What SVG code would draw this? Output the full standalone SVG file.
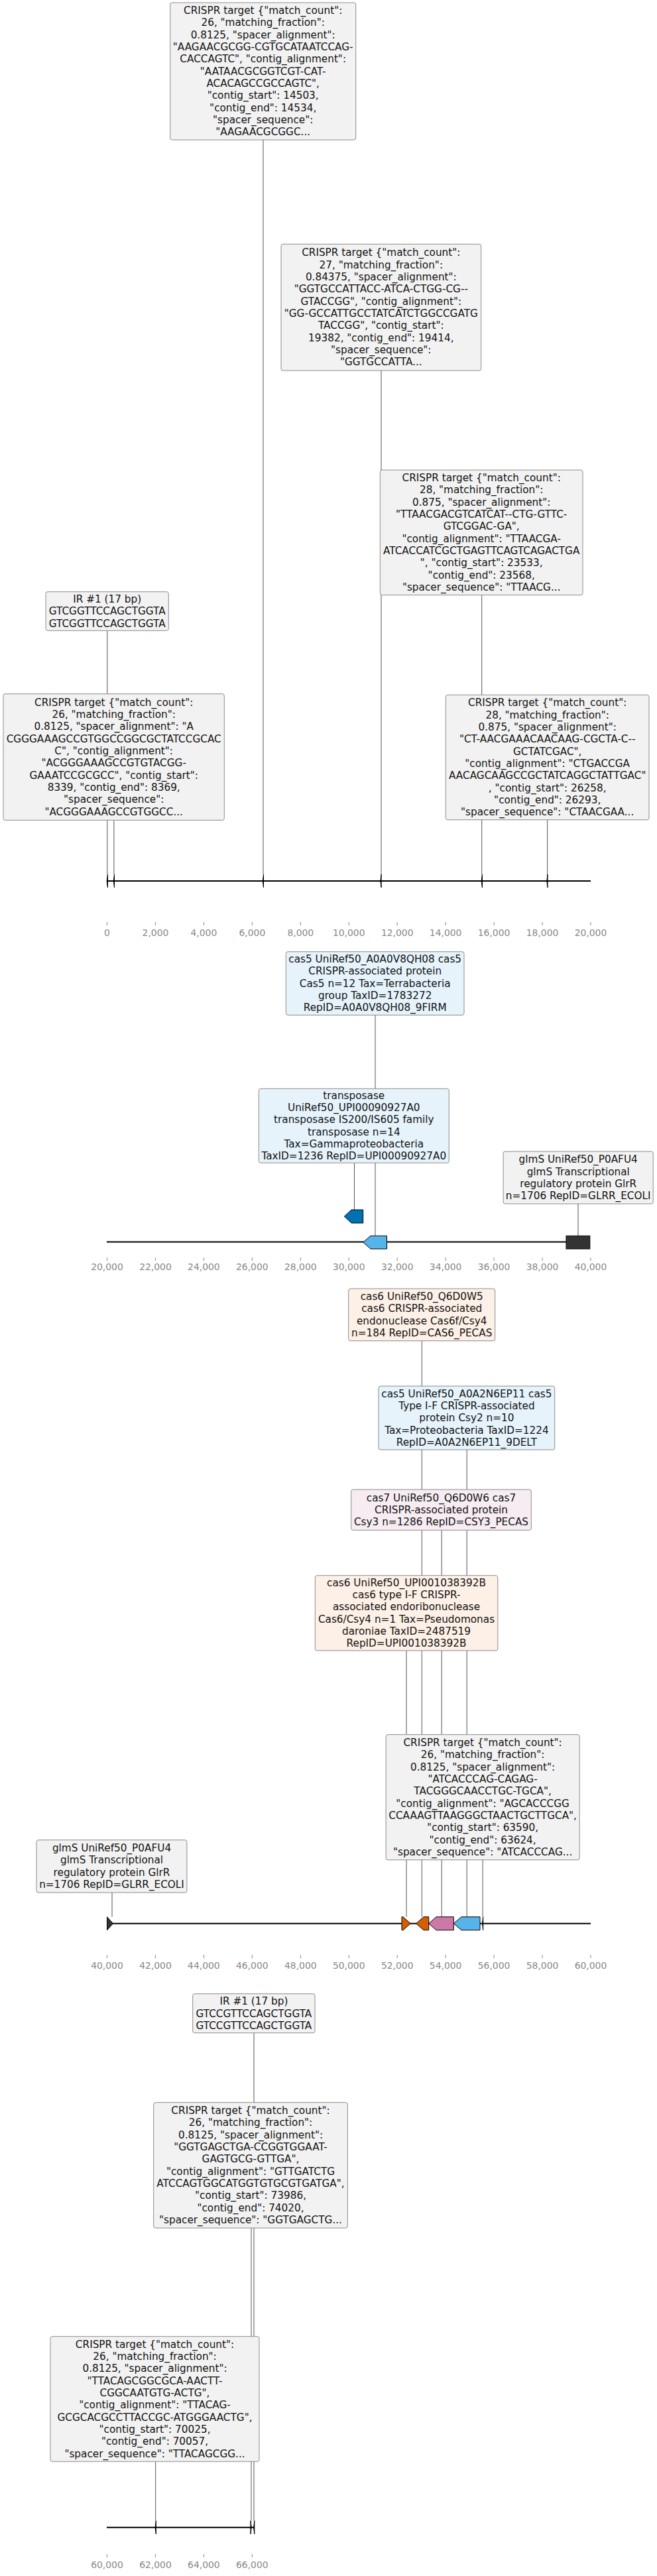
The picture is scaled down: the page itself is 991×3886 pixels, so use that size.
<svg xmlns="http://www.w3.org/2000/svg" width="991" height="3886" viewBox="0 0 991 3886">
<style>
.bx{stroke:#8c8c8c;stroke-width:1}
.g{fill:#f2f2f2}.b{fill:#e6f3fb}.o{fill:#fdf0e6}.p{fill:#f6ecf2}
.t{font-family:"DejaVu Sans",sans-serif;font-size:15.28px;fill:#111;text-anchor:middle}
.tk{font-family:"DejaVu Sans",sans-serif;font-size:13.9px;fill:#888;text-anchor:middle}
.tm{stroke:#888;stroke-width:1}
.ax{stroke:#000;stroke-width:2}
.c{stroke:#555;stroke-width:1}
.f{stroke:#000;stroke-width:1}
</style>
<rect width="991" height="3886" fill="#fff"/>
<g id="connectors">
<line class="c" x1="161.8" y1="951.3" x2="161.8" y2="1319"/>
<line class="c" x1="171.9" y1="1237.3" x2="171.9" y2="1319"/>
<line class="c" x1="397" y1="211" x2="397" y2="1319"/>
<line class="c" x1="575" y1="559" x2="575" y2="1319"/>
<line class="c" x1="726.7" y1="897.7" x2="726.7" y2="1319"/>
<line class="c" x1="825.7" y1="1236.7" x2="825.7" y2="1319"/>
<line class="c" x1="566" y1="1531.3" x2="566" y2="1864.3"/>
<line class="c" x1="534.5" y1="1754.3" x2="534.5" y2="1825"/>
<line class="c" x1="872" y1="1816" x2="872" y2="1864.3"/>
<line class="c" x1="636.3" y1="2022.7" x2="636.3" y2="2891.7"/>
<line class="c" x1="704.2" y1="2187" x2="704.2" y2="2891.7"/>
<line class="c" x1="666.2" y1="2308.3" x2="666.2" y2="2891.7"/>
<line class="c" x1="613" y1="2490" x2="613" y2="2891.7"/>
<line class="c" x1="728.1" y1="2805.7" x2="728.1" y2="2891.7"/>
<line class="c" x1="169" y1="2855" x2="169" y2="2891.7"/>
<line class="c" x1="383" y1="3066.7" x2="383" y2="3802.7"/>
<line class="c" x1="379" y1="3361" x2="379" y2="3802.7"/>
<line class="c" x1="234.7" y1="3713.3" x2="234.7" y2="3802.7"/>
</g>
<g id="axis1">
<line class="ax" x1="161.5" y1="1329" x2="891" y2="1329"/>
<g class="tm"><line x1="161.5" y1="1391" x2="161.5" y2="1396"/><line x1="234.45" y1="1391" x2="234.45" y2="1396"/><line x1="307.4" y1="1391" x2="307.4" y2="1396"/><line x1="380.35" y1="1391" x2="380.35" y2="1396"/><line x1="453.3" y1="1391" x2="453.3" y2="1396"/><line x1="526.25" y1="1391" x2="526.25" y2="1396"/><line x1="599.2" y1="1391" x2="599.2" y2="1396"/><line x1="672.15" y1="1391" x2="672.15" y2="1396"/><line x1="745.1" y1="1391" x2="745.1" y2="1396"/><line x1="818.05" y1="1391" x2="818.05" y2="1396"/><line x1="891" y1="1391" x2="891" y2="1396"/></g>
<text class="tk" y="1412"><tspan x="161.5">0</tspan><tspan x="234.45">2,000</tspan><tspan x="307.4">4,000</tspan><tspan x="380.35">6,000</tspan><tspan x="453.3">8,000</tspan><tspan x="526.25">10,000</tspan><tspan x="599.2">12,000</tspan><tspan x="672.15">14,000</tspan><tspan x="745.1">16,000</tspan><tspan x="818.05">18,000</tspan><tspan x="891">20,000</tspan></text>
<path class="f" fill="#000" d="M162.4 1319 L162.4 1339 L161.2 1329 Z M172.5 1319 L172.5 1339 L171.3 1329 Z M397.5 1319 L397.5 1339 L396.3 1329 Z M575.1 1319 L575.1 1339 L573.9 1329 Z M727.4 1319 L727.4 1339 L726.2 1329 Z M826 1319 L826 1339 L824.8 1329 Z"/>
</g>
<g id="axis2">
<line class="ax" x1="161" y1="1873.5" x2="890" y2="1873.5"/>
<g class="tm"><line x1="161.5" y1="1897" x2="161.5" y2="1902"/><line x1="234.45" y1="1897" x2="234.45" y2="1902"/><line x1="307.4" y1="1897" x2="307.4" y2="1902"/><line x1="380.35" y1="1897" x2="380.35" y2="1902"/><line x1="453.3" y1="1897" x2="453.3" y2="1902"/><line x1="526.25" y1="1897" x2="526.25" y2="1902"/><line x1="599.2" y1="1897" x2="599.2" y2="1902"/><line x1="672.15" y1="1897" x2="672.15" y2="1902"/><line x1="745.1" y1="1897" x2="745.1" y2="1902"/><line x1="818.05" y1="1897" x2="818.05" y2="1902"/><line x1="891" y1="1897" x2="891" y2="1902"/></g>
<text class="tk" y="1916"><tspan x="161.5">20,000</tspan><tspan x="234.45">22,000</tspan><tspan x="307.4">24,000</tspan><tspan x="380.35">26,000</tspan><tspan x="453.3">28,000</tspan><tspan x="526.25">30,000</tspan><tspan x="599.2">32,000</tspan><tspan x="672.15">34,000</tspan><tspan x="745.1">36,000</tspan><tspan x="818.05">38,000</tspan><tspan x="891">40,000</tspan></text>
</g>
<g id="feat-transposase-1"><path class="f" fill="#0072B2" d="M547.7 1825 L530.1 1825 L519.3 1835 L530.1 1845 L547.7 1845 Z"/></g>
<g id="feat-cas5-1"><path class="f" fill="#56B4E9" d="M583.5 1864.3 L559 1864.3 L547.7 1874 L559 1884 L583.5 1884 Z"/></g>
<g id="feat-glms-1"><rect class="f" fill="#333" x="854" y="1864.3" width="35.8" height="19.7"/></g>
<g id="axis3">
<line class="ax" x1="161" y1="2901.7" x2="891" y2="2901.7"/>
<g class="tm"><line x1="161.5" y1="2949" x2="161.5" y2="2954"/><line x1="234.45" y1="2949" x2="234.45" y2="2954"/><line x1="307.4" y1="2949" x2="307.4" y2="2954"/><line x1="380.35" y1="2949" x2="380.35" y2="2954"/><line x1="453.3" y1="2949" x2="453.3" y2="2954"/><line x1="526.25" y1="2949" x2="526.25" y2="2954"/><line x1="599.2" y1="2949" x2="599.2" y2="2954"/><line x1="672.15" y1="2949" x2="672.15" y2="2954"/><line x1="745.1" y1="2949" x2="745.1" y2="2954"/><line x1="818.05" y1="2949" x2="818.05" y2="2954"/><line x1="891" y1="2949" x2="891" y2="2954"/></g>
<text class="tk" y="2970"><tspan x="161.5">40,000</tspan><tspan x="234.45">42,000</tspan><tspan x="307.4">44,000</tspan><tspan x="380.35">46,000</tspan><tspan x="453.3">48,000</tspan><tspan x="526.25">50,000</tspan><tspan x="599.2">52,000</tspan><tspan x="672.15">54,000</tspan><tspan x="745.1">56,000</tspan><tspan x="818.05">58,000</tspan><tspan x="891">60,000</tspan></text>
</g>
<g id="feat-glms-2"><path class="f" fill="#333" d="M161.5 2891.7 L161.5 2911.7 L170.5 2901.7 Z"/></g>
<g id="feat-cas6-upi"><path class="f" fill="#D55E00" d="M606 2891.7 L608 2891.7 L619.3 2901.7 L608 2911.7 L606 2911.7 Z"/></g>
<g id="feat-cas6-q6"><path class="f" fill="#D55E00" d="M646.7 2891.7 L639 2891.7 L627.7 2901.7 L639 2911.7 L646.7 2911.7 Z"/></g>
<g id="feat-cas7"><path class="f" fill="#CC79A7" d="M684.3 2891.7 L658 2891.7 L646.7 2901.7 L658 2911.7 L684.3 2911.7 Z"/></g>
<g id="feat-cas5-2"><path class="f" fill="#56B4E9" d="M724 2891.7 L696 2891.7 L684.3 2901.7 L696 2911.7 L724 2911.7 Z"/></g>
<g id="feat-crispr-p3"><path class="f" fill="#000" d="M728.7 2891.7 L728.7 2911.7 L727.5 2901.7 Z"/></g>
<g id="axis4">
<line class="ax" x1="161" y1="3812.7" x2="383.5" y2="3812.7"/>
<g class="tm"><line x1="161.5" y1="3853" x2="161.5" y2="3858"/><line x1="234.45" y1="3853" x2="234.45" y2="3858"/><line x1="307.4" y1="3853" x2="307.4" y2="3858"/><line x1="380.35" y1="3853" x2="380.35" y2="3858"/></g>
<text class="tk" y="3874"><tspan x="161.5">60,000</tspan><tspan x="234.45">62,000</tspan><tspan x="307.4">64,000</tspan><tspan x="380.35">66,000</tspan></text>
<path class="f" fill="#000" d="M235.3 3802.7 L235.3 3822.7 L234.1 3812.7 Z M378 3802.7 L378 3822.7 L379.2 3812.7 Z M383.8 3802.7 L383.8 3822.7 L382.6 3812.7 Z"/>
</g>
<g id="node-crispr-14503"><rect class="bx g" x="256.7" y="4" width="280" height="207" rx="3"/>
<text class="t" y="21.15"><tspan x="396.7">CRISPR target {"match_count":</tspan><tspan x="396.7" dy="18.33">26, "matching_fraction":</tspan><tspan x="396.7" dy="18.33">0.8125, "spacer_alignment":</tspan><tspan x="396.7" dy="18.33">"AAGAACGCGG-CGTGCATAATCCAG-</tspan><tspan x="396.7" dy="18.33">CACCAGTC", "contig_alignment":</tspan><tspan x="396.7" dy="18.33">"AATAACGCGGTCGT-CAT-</tspan><tspan x="396.7" dy="18.33">ACACAGCCGCCAGTC",</tspan><tspan x="396.7" dy="18.33">"contig_start": 14503,</tspan><tspan x="396.7" dy="18.33">"contig_end": 14534,</tspan><tspan x="396.7" dy="18.33">"spacer_sequence":</tspan><tspan x="396.7" dy="18.33">"AAGAACGCGGC...</tspan></text></g>
<g id="node-crispr-19382"><rect class="bx g" x="424" y="368.3" width="301.7" height="190.7" rx="3"/>
<text class="t" y="386.46"><tspan x="574.8">CRISPR target {"match_count":</tspan><tspan x="574.8" dy="18.33">27, "matching_fraction":</tspan><tspan x="574.8" dy="18.33">0.84375, "spacer_alignment":</tspan><tspan x="574.8" dy="18.33">"GGTGCCATTACC-ATCA-CTGG-CG--</tspan><tspan x="574.8" dy="18.33">GTACCGG", "contig_alignment":</tspan><tspan x="574.8" dy="18.33">"GG-GCCATTGCCTATCATCTGGCCGATG</tspan><tspan x="574.8" dy="18.33">TACCGG", "contig_start":</tspan><tspan x="574.8" dy="18.33">19382, "contig_end": 19414,</tspan><tspan x="574.8" dy="18.33">"spacer_sequence":</tspan><tspan x="574.8" dy="18.33">"GGTGCCATTA...</tspan></text></g>
<g id="node-crispr-23533"><rect class="bx g" x="573.3" y="709" width="305.7" height="188.7" rx="3"/>
<text class="t" y="726.16"><tspan x="726.2">CRISPR target {"match_count":</tspan><tspan x="726.2" dy="18.33">28, "matching_fraction":</tspan><tspan x="726.2" dy="18.33">0.875, "spacer_alignment":</tspan><tspan x="726.2" dy="18.33">"TTAACGACGTCATCAT--CTG-GTTC-</tspan><tspan x="726.2" dy="18.33">GTCGGAC-GA",</tspan><tspan x="726.2" dy="18.33">"contig_alignment": "TTAACGA-</tspan><tspan x="726.2" dy="18.33">ATCACCATCGCTGAGTTCAGTCAGACTGA</tspan><tspan x="726.2" dy="18.33">", "contig_start": 23533,</tspan><tspan x="726.2" dy="18.33">"contig_end": 23568,</tspan><tspan x="726.2" dy="18.33">"spacer_sequence": "TTAACG...</tspan></text></g>
<g id="node-ir-1"><rect class="bx g" x="69" y="892.7" width="185.3" height="58.6" rx="3"/>
<text class="t" y="908.97"><tspan x="161.7">IR #1 (17 bp)</tspan><tspan x="161.7" dy="18.33">GTCGGTTCCAGCTGGTA</tspan><tspan x="161.7" dy="18.33">GTCGGTTCCAGCTGGTA</tspan></text></g>
<g id="node-crispr-8339"><rect class="bx g" x="5" y="1046.7" width="333.3" height="190.6" rx="3"/>
<text class="t" y="1064.81"><tspan x="171.7">CRISPR target {"match_count":</tspan><tspan x="171.7" dy="18.33">26, "matching_fraction":</tspan><tspan x="171.7" dy="18.33">0.8125, "spacer_alignment": "A</tspan><tspan x="171.7" dy="18.33">CGGGAAAGCCGTGGCCGGCGCTATCCGCAC</tspan><tspan x="171.7" dy="18.33">C", "contig_alignment":</tspan><tspan x="171.7" dy="18.33">"ACGGGAAAGCCGTGTACGG-</tspan><tspan x="171.7" dy="18.33">GAAATCCGCGCC", "contig_start":</tspan><tspan x="171.7" dy="18.33">8339, "contig_end": 8369,</tspan><tspan x="171.7" dy="18.33">"spacer_sequence":</tspan><tspan x="171.7" dy="18.33">"ACGGGAAAGCCGTGGCC...</tspan></text></g>
<g id="node-crispr-26258"><rect class="bx g" x="672.3" y="1048.3" width="306.7" height="188.4" rx="3"/>
<text class="t" y="1065.31"><tspan x="825.7">CRISPR target {"match_count":</tspan><tspan x="825.7" dy="18.33">28, "matching_fraction":</tspan><tspan x="825.7" dy="18.33">0.875, "spacer_alignment":</tspan><tspan x="825.7" dy="18.33">"CT-AACGAAACAACAAG-CGCTA-C--</tspan><tspan x="825.7" dy="18.33">GCTATCGAC",</tspan><tspan x="825.7" dy="18.33">"contig_alignment": "CTGACCGA</tspan><tspan x="825.7" dy="18.33">AACAGCAAGCCGCTATCAGGCTATTGAC"</tspan><tspan x="825.7" dy="18.33">, "contig_start": 26258,</tspan><tspan x="825.7" dy="18.33">"contig_end": 26293,</tspan><tspan x="825.7" dy="18.33">"spacer_sequence": "CTAACGAA...</tspan></text></g>
<g id="node-cas5-a0a0v8"><rect class="bx b" x="431.3" y="1435.7" width="268.7" height="95.6" rx="3"/>
<text class="t" y="1452.14"><tspan x="565.7">cas5 UniRef50_A0A0V8QH08 cas5</tspan><tspan x="565.7" dy="18.33">CRISPR-associated protein</tspan><tspan x="565.7" dy="18.33">Cas5 n=12 Tax=Terrabacteria</tspan><tspan x="565.7" dy="18.33">group TaxID=1783272</tspan><tspan x="565.7" dy="18.33">RepID=A0A0V8QH08_9FIRM</tspan></text></g>
<g id="node-transposase"><rect class="bx b" x="390.3" y="1642.3" width="287" height="112" rx="3"/>
<text class="t" y="1657.77"><tspan x="533.8">transposase</tspan><tspan x="533.8" dy="18.33">UniRef50_UPI00090927A0</tspan><tspan x="533.8" dy="18.33">transposase IS200/IS605 family</tspan><tspan x="533.8" dy="18.33">transposase n=14</tspan><tspan x="533.8" dy="18.33">Tax=Gammaproteobacteria</tspan><tspan x="533.8" dy="18.33">TaxID=1236 RepID=UPI00090927A0</tspan></text></g>
<g id="node-glms-1"><rect class="bx g" x="759.1" y="1737" width="226.1" height="79" rx="3"/>
<text class="t" y="1754.3"><tspan x="872.2">glmS UniRef50_P0AFU4</tspan><tspan x="872.2" dy="18.33">glmS Transcriptional</tspan><tspan x="872.2" dy="18.33">regulatory protein GlrR</tspan><tspan x="872.2" dy="18.33">n=1706 RepID=GLRR_ECOLI</tspan></text></g>
<g id="node-cas6-q6d0w5"><rect class="bx o" x="525.7" y="1944" width="221" height="78.7" rx="3"/>
<text class="t" y="1961.15"><tspan x="636.2">cas6 UniRef50_Q6D0W5</tspan><tspan x="636.2" dy="18.33">cas6 CRISPR-associated</tspan><tspan x="636.2" dy="18.33">endonuclease Cas6f/Csy4</tspan><tspan x="636.2" dy="18.33">n=184 RepID=CAS6_PECAS</tspan></text></g>
<g id="node-cas5-a0a2n6"><rect class="bx b" x="571" y="2091" width="265.7" height="96" rx="3"/>
<text class="t" y="2107.64"><tspan x="703.9">cas5 UniRef50_A0A2N6EP11 cas5</tspan><tspan x="703.9" dy="18.33">Type I-F CRISPR-associated</tspan><tspan x="703.9" dy="18.33">protein Csy2 n=10</tspan><tspan x="703.9" dy="18.33">Tax=Proteobacteria TaxID=1224</tspan><tspan x="703.9" dy="18.33">RepID=A0A2N6EP11_9DELT</tspan></text></g>
<g id="node-cas7"><rect class="bx p" x="529.7" y="2247" width="271.6" height="61.3" rx="3"/>
<text class="t" y="2264.62"><tspan x="665.5">cas7 UniRef50_Q6D0W6 cas7</tspan><tspan x="665.5" dy="18.33">CRISPR-associated protein</tspan><tspan x="665.5" dy="18.33">Csy3 n=1286 RepID=CSY3_PECAS</tspan></text></g>
<g id="node-cas6-upi"><rect class="bx o" x="475.3" y="2376.7" width="275.5" height="113.3" rx="3"/>
<text class="t" y="2392.82"><tspan x="613">cas6 UniRef50_UPI001038392B</tspan><tspan x="613" dy="18.33">cas6 type I-F CRISPR-</tspan><tspan x="613" dy="18.33">associated endoribonuclease</tspan><tspan x="613" dy="18.33">Cas6/Csy4 n=1 Tax=Pseudomonas</tspan><tspan x="613" dy="18.33">daroniae TaxID=2487519</tspan><tspan x="613" dy="18.33">RepID=UPI001038392B</tspan></text></g>
<g id="node-crispr-63590"><rect class="bx g" x="582.1" y="2616.7" width="292" height="189" rx="3"/>
<text class="t" y="2634.01"><tspan x="728.1">CRISPR target {"match_count":</tspan><tspan x="728.1" dy="18.33">26, "matching_fraction":</tspan><tspan x="728.1" dy="18.33">0.8125, "spacer_alignment":</tspan><tspan x="728.1" dy="18.33">"ATCACCCAG-CAGAG-</tspan><tspan x="728.1" dy="18.33">TACGGGCAACCTGC-TGCA",</tspan><tspan x="728.1" dy="18.33">"contig_alignment": "AGCACCCGG</tspan><tspan x="728.1" dy="18.33">CCAAAGTTAAGGGCTAACTGCTTGCA",</tspan><tspan x="728.1" dy="18.33">"contig_start": 63590,</tspan><tspan x="728.1" dy="18.33">"contig_end": 63624,</tspan><tspan x="728.1" dy="18.33">"spacer_sequence": "ATCACCCAG...</tspan></text></g>
<g id="node-glms-2"><rect class="bx g" x="55" y="2775.7" width="226.9" height="79.3" rx="3"/>
<text class="t" y="2793.15"><tspan x="168.5">glmS UniRef50_P0AFU4</tspan><tspan x="168.5" dy="18.33">glmS Transcriptional</tspan><tspan x="168.5" dy="18.33">regulatory protein GlrR</tspan><tspan x="168.5" dy="18.33">n=1706 RepID=GLRR_ECOLI</tspan></text></g>
<g id="node-ir-2"><rect class="bx g" x="290.7" y="3007.7" width="184.3" height="59" rx="3"/>
<text class="t" y="3024.17"><tspan x="382.9">IR #1 (17 bp)</tspan><tspan x="382.9" dy="18.33">GTCCGTTCCAGCTGGTA</tspan><tspan x="382.9" dy="18.33">GTCCGTTCCAGCTGGTA</tspan></text></g>
<g id="node-crispr-73986"><rect class="bx g" x="231.7" y="3171.7" width="292.6" height="189.3" rx="3"/>
<text class="t" y="3189.16"><tspan x="378">CRISPR target {"match_count":</tspan><tspan x="378" dy="18.33">26, "matching_fraction":</tspan><tspan x="378" dy="18.33">0.8125, "spacer_alignment":</tspan><tspan x="378" dy="18.33">"GGTGAGCTGA-CCGGTGGAAT-</tspan><tspan x="378" dy="18.33">GAGTGCG-GTTGA",</tspan><tspan x="378" dy="18.33">"contig_alignment": "GTTGATCTG</tspan><tspan x="378" dy="18.33">ATCCAGTGGCATGGTGTGCGTGATGA",</tspan><tspan x="378" dy="18.33">"contig_start": 73986,</tspan><tspan x="378" dy="18.33">"contig_end": 74020,</tspan><tspan x="378" dy="18.33">"spacer_sequence": "GGTGAGCTG...</tspan></text></g>
<g id="node-crispr-70025"><rect class="bx g" x="76" y="3524.7" width="315" height="188.6" rx="3"/>
<text class="t" y="3541.81"><tspan x="233.5">CRISPR target {"match_count":</tspan><tspan x="233.5" dy="18.33">26, "matching_fraction":</tspan><tspan x="233.5" dy="18.33">0.8125, "spacer_alignment":</tspan><tspan x="233.5" dy="18.33">"TTACAGCGGCGCA-AACTT-</tspan><tspan x="233.5" dy="18.33">CGGCAATGTG-ACTG",</tspan><tspan x="233.5" dy="18.33">"contig_alignment": "TTACAG-</tspan><tspan x="233.5" dy="18.33">GCGCACGCCTTACCGC-ATGGGAACTG",</tspan><tspan x="233.5" dy="18.33">"contig_start": 70025,</tspan><tspan x="233.5" dy="18.33">"contig_end": 70057,</tspan><tspan x="233.5" dy="18.33">"spacer_sequence": "TTACAGCGG...</tspan></text></g>
</svg>
